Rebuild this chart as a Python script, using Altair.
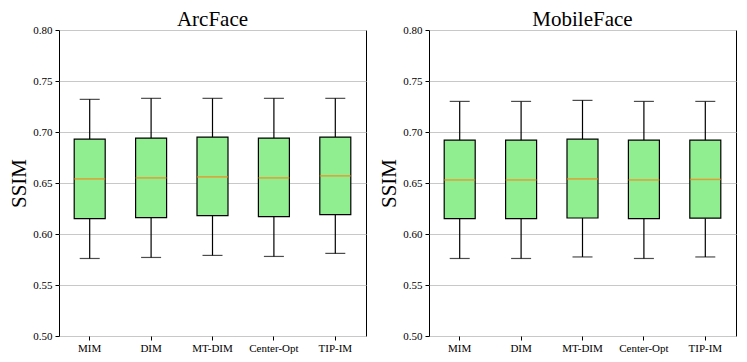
import altair as alt
import pandas as pd

methods = ["MIM", "DIM", "MT-DIM", "Center-Opt", "TIP-IM"]

arc_low = [0.576, 0.577, 0.579, 0.578, 0.581]
arc_q1 = [0.615, 0.616, 0.618, 0.617, 0.619]
arc_med = [0.654, 0.655, 0.656, 0.655, 0.657]
arc_q3 = [0.693, 0.694, 0.695, 0.694, 0.695]
arc_high = [0.732, 0.733, 0.733, 0.733, 0.733]

mob_low = [0.576, 0.576, 0.5775, 0.576, 0.5775]
mob_q1 = [0.615, 0.615, 0.6157, 0.615, 0.6155]
mob_med = [0.653, 0.653, 0.654, 0.653, 0.6535]
mob_q3 = [0.692, 0.692, 0.693, 0.692, 0.692]
mob_high = [0.730, 0.730, 0.731, 0.730, 0.730]

y_ticks = [0.50, 0.55, 0.60, 0.65, 0.70, 0.75, 0.80]

FONT = "Liberation Serif"


def make_df(low, q1, med, q3, high):
    return pd.DataFrame({"method": methods, "low": low, "q1": q1,
                         "med": med, "q3": q3, "high": high})


def panel(df, title):
    base = alt.Chart(df).encode(
        x=alt.X("method:N", sort=methods, title=None,
                scale=alt.Scale(paddingInner=0, paddingOuter=0),
                axis=alt.Axis(labelAngle=0, labelFont=FONT, labelFontSize=11,
                              labelColor="black", tickColor="black",
                              domain=False, ticks=True, tickSize=4, grid=False,
                              labelPadding=2))
    )
    yscale = alt.Scale(domain=[0.5, 0.8], nice=False, zero=False)
    yaxis = alt.Axis(values=y_ticks, format=".2f", labelFont=FONT, labelFontSize=11,
                     labelColor="black", tickColor="black", tickSize=4,
                     labelPadding=3,
                     domain=False, grid=True, gridColor="#c8c8c8", gridWidth=1,
                     title="SSIM", titleFont=FONT, titleFontSize=21,
                     titleFontWeight="normal", titleColor="black", titlePadding=3)
    lower = base.mark_rule(color="black", strokeWidth=1.2).encode(
        y=alt.Y("low:Q", scale=yscale, axis=yaxis), y2="q1:Q")
    upper = base.mark_rule(color="black", strokeWidth=1.2).encode(
        y=alt.Y("q3:Q", scale=yscale), y2="high:Q")
    box = base.mark_bar(size=31, fill="#90EE90", stroke="black", strokeWidth=1.2).encode(
        y=alt.Y("q1:Q", scale=yscale), y2="q3:Q")
    med = base.mark_tick(color="#ff7f0e", size=31, thickness=1.5).encode(
        y=alt.Y("med:Q", scale=yscale))
    cap_lo = base.mark_tick(color="black", size=20, thickness=1.2).encode(
        y=alt.Y("low:Q", scale=yscale))
    cap_hi = base.mark_tick(color="black", size=20, thickness=1.2).encode(
        y=alt.Y("high:Q", scale=yscale))
    return alt.layer(lower, upper, box, med, cap_lo, cap_hi).properties(
        width=307, height=306,
        view=alt.ViewBackground(stroke="#000000", strokeWidth=1, fill="white"),
        title=alt.TitleParams(title, font=FONT, fontSize=21, fontWeight="normal",
                              color="black", offset=-6))


left = panel(make_df(arc_low, arc_q1, arc_med, arc_q3, arc_high), "ArcFace")
right = panel(make_df(mob_low, mob_q1, mob_med, mob_q3, mob_high), "MobileFace")

chart = alt.hconcat(left, right, spacing=11).properties(
    padding={"left": 0, "top": 0, "right": 0, "bottom": 0}
).configure(background="white", font=FONT).configure_axis(
    labelFont=FONT, titleFont=FONT)

chart.save("out.html", embed_options={"renderer": "svg", "actions": False})
